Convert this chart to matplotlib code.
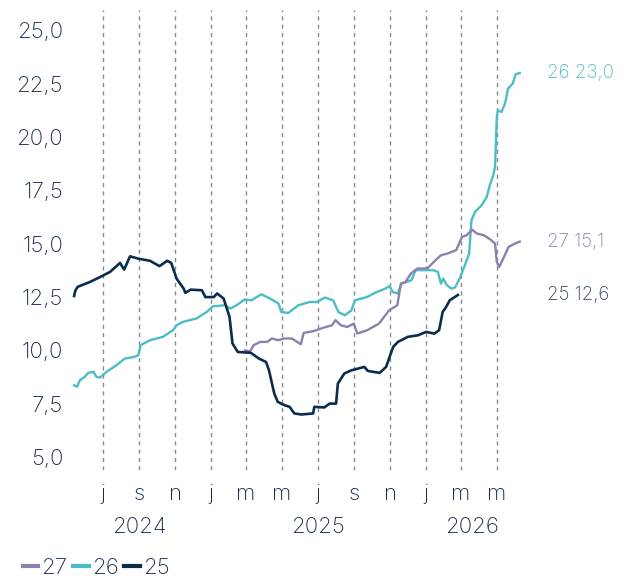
import pandas as pd
import matplotlib
matplotlib.use('Agg')
import matplotlib.pyplot as plt
from matplotlib.lines import Line2D

FONT = ['Inter', 'Roboto', 'DejaVu Sans']
NAVY = '#0b2d4d'; TEAL = '#4bbdc7'; PURPLE = '#8d80af'
TXT = '#172c4c'; GRID = '#8a8a8a'

plt.rcParams.update({'font.family': FONT, 'font.size': 16, 'font.weight': 'light'})

# series 25 (navy)
d25 = ['2024-05-13', '2024-05-15', '2024-05-19', '2024-06-09', '2024-06-29', '2024-07-13',
       '2024-07-30', '2024-08-06', '2024-08-16', '2024-08-30', '2024-09-19', '2024-10-05',
       '2024-10-18', '2024-10-25', '2024-11-03', '2024-11-15', '2024-11-18', '2024-11-27',
       '2024-12-16', '2024-12-22', '2025-01-05', '2025-01-11', '2025-01-22', '2025-02-01',
       '2025-02-06', '2025-02-15', '2025-03-09', '2025-03-23', '2025-04-04', '2025-04-09',
       '2025-04-18', '2025-04-24', '2025-05-05', '2025-05-14', '2025-05-22', '2025-06-03',
       '2025-06-23', '2025-06-25', '2025-07-12', '2025-07-21', '2025-08-01', '2025-08-04',
       '2025-08-15', '2025-08-27', '2025-09-18', '2025-09-24', '2025-10-14', '2025-10-25',
       '2025-11-06', '2025-11-14', '2025-12-01', '2025-12-18', '2026-01-01', '2026-01-15',
       '2026-01-23', '2026-01-29', '2026-02-04', '2026-02-10', '2026-02-24']
v25 = [12.55, 12.8, 12.98, 13.21, 13.48, 13.68,
       14.1, 13.79, 14.41, 14.3, 14.2, 13.95,
       14.2, 14.1, 13.37, 12.9, 12.7, 12.85,
       12.82, 12.5, 12.5, 12.67, 12.43, 11.57,
       10.33, 9.93, 9.89, 9.62, 9.46, 9.07,
       7.98, 7.59, 7.44, 7.36, 7.05, 7.0,
       7.05, 7.36, 7.33, 7.51, 7.51, 8.45,
       8.92, 9.07, 9.23, 9.04, 8.95, 9.23,
       10.17, 10.4, 10.64, 10.71, 10.87, 10.79,
       10.95, 11.8, 12.04, 12.35, 12.6]

# series 26 (teal)
d26 = ['2024-05-13', '2024-05-18', '2024-05-23', '2024-05-31', '2024-06-06', '2024-06-15',
       '2024-06-20', '2024-06-26', '2024-07-07', '2024-07-24', '2024-08-07', '2024-08-24',
       '2024-08-30', '2024-09-03', '2024-09-19', '2024-10-11', '2024-10-28', '2024-11-03',
       '2024-11-14', '2024-12-07', '2024-12-24', '2025-01-04', '2025-01-24', '2025-02-02',
       '2025-02-13', '2025-02-27', '2025-03-10', '2025-03-27', '2025-04-11', '2025-04-25',
       '2025-04-30', '2025-05-12', '2025-05-29', '2025-06-17', '2025-06-29', '2025-07-13',
       '2025-07-27', '2025-08-05', '2025-08-16', '2025-08-27', '2025-09-02', '2025-09-22',
       '2025-10-09', '2025-10-20', '2025-10-31', '2025-11-05', '2025-11-14', '2025-11-20',
       '2025-12-07', '2025-12-14', '2025-12-30', '2026-01-13', '2026-01-21', '2026-01-26',
       '2026-01-30', '2026-02-05', '2026-02-13', '2026-02-19', '2026-02-27', '2026-03-11',
       '2026-03-15', '2026-03-19', '2026-03-25', '2026-04-05', '2026-04-14', '2026-04-19',
       '2026-04-25', '2026-04-28', '2026-05-01', '2026-05-03', '2026-05-09', '2026-05-15',
       '2026-05-20', '2026-05-28', '2026-06-02', '2026-06-09']
v26 = [8.37, 8.3, 8.61, 8.76, 8.95, 9.0,
       8.76, 8.73, 9.0, 9.31, 9.62, 9.7,
       9.78, 10.25, 10.48, 10.64, 10.95, 11.18,
       11.34, 11.5, 11.8, 12.07, 12.12, 11.96,
       12.12, 12.39, 12.35, 12.63, 12.43, 12.2,
       11.8, 11.76, 12.12, 12.27, 12.27, 12.48,
       12.35, 11.8, 11.65, 11.88, 12.35, 12.5,
       12.74, 12.85, 13.01, 12.74, 12.67, 13.13,
       13.29, 13.76, 13.76, 13.76, 13.68, 13.13,
       13.37, 13.06, 12.9, 12.95, 13.37, 14.23,
       14.54, 16.1, 16.49, 16.8, 17.19, 17.74,
       18.21, 18.6, 20.94, 21.25, 21.17, 21.57,
       22.27, 22.5, 22.94, 23.0]

# series 27 (purple)
d27 = ['2025-02-27', '2025-03-08', '2025-03-14', '2025-03-25', '2025-04-06', '2025-04-14',
       '2025-04-25', '2025-05-04', '2025-05-18', '2025-06-02', '2025-06-07', '2025-06-24',
       '2025-07-11', '2025-07-25', '2025-07-31', '2025-08-09', '2025-08-20', '2025-08-31',
       '2025-09-06', '2025-09-23', '2025-10-13', '2025-10-30', '2025-11-13', '2025-11-19',
       '2025-11-27', '2025-12-06', '2025-12-17', '2026-01-03', '2026-01-14', '2026-01-26',
       '2026-02-06', '2026-02-21', '2026-03-03', '2026-03-11', '2026-03-20', '2026-03-28',
       '2026-04-09', '2026-04-20', '2026-04-28', '2026-05-01', '2026-05-05', '2026-05-12',
       '2026-05-21', '2026-06-01', '2026-06-09']
v27 = [10.0, 9.96, 10.25, 10.4, 10.4, 10.56,
       10.48, 10.56, 10.56, 10.29, 10.82, 10.91,
       11.07, 11.18, 11.42, 11.18, 11.1, 11.26,
       10.79, 10.95, 11.26, 11.88, 12.12, 13.13,
       13.21, 13.6, 13.84, 13.84, 14.15, 14.46,
       14.54, 14.7, 15.32, 15.4, 15.66, 15.48,
       15.4, 15.2, 15.01, 14.15, 13.91, 14.31,
       14.85, 15.01, 15.1]

month_ticks = ['2024-07-01', '2024-09-01', '2024-11-01', '2025-01-01', '2025-03-01', '2025-05-01',
               '2025-07-01', '2025-09-01', '2025-11-01', '2026-01-01', '2026-03-01', '2026-05-01']
month_labels = ['j', 's', 'n', 'j', 'm', 'm', 'j', 's', 'n', 'j', 'm', 'm']
years = ['2024', '2025', '2026']
year_pos = ['2024-09-01', '2025-07-01', '2026-03-20']
yticks = [5.0, 7.5, 10.0, 12.5, 15.0, 17.5, 20.0, 22.5, 25.0]

fig = plt.figure(figsize=(6.28, 5.78), dpi=100)
ax = fig.add_axes([70/628, 108/578, 458/628, 460/578])

series = [('27', d27, v27, PURPLE, 1.7), ('26', d26, v26, TEAL, 1.7), ('25', d25, v25, NAVY, 1.9)]
for name, d, v, col, lw in [series[1], series[0], series[2]]:
    ax.plot(pd.to_datetime(d), v, color=col, lw=lw, solid_joinstyle='round')

for t in month_ticks:
    ax.axvline(pd.Timestamp(t), color=GRID, lw=1, ls=(0, (3, 3)), zorder=0)

ax.set_xlim(pd.Timestamp('2024-05-06'), pd.Timestamp('2026-06-23'))
ax.set_ylim(4.4, 25.95)
ax.set_xticks(pd.to_datetime(month_ticks))
ax.set_xticklabels(month_labels)
ax.set_yticks(yticks)
ax.set_yticklabels([f'{t:.1f}'.replace('.', ',') for t in yticks])
ax.tick_params(length=0, colors=TXT, labelsize=16)
ax.tick_params(axis='x', pad=10)
ax.tick_params(axis='y', pad=5)
for s in ax.spines.values():
    s.set_visible(False)

for y, p in zip(years, year_pos):
    ax.text(pd.Timestamp(p), -0.123, y, transform=ax.get_xaxis_transform(),
            ha='center', va='center', color=TXT, fontsize=16)

end_cols = {'26': TEAL, '27': PURPLE, '25': '#2b4763'}
for name, d, v, col, lw in series:
    ax.text(1.041, v[-1], f'{name} {v[-1]:.1f}'.replace('.', ','),
            transform=ax.get_yaxis_transform(), ha='left', va='center',
            color=end_cols[name], fontsize=13.5)

handles = [Line2D([], [], color=c, lw=3) for _, _, _, c, _ in series]
fig.legend(handles, [s[0] for s in series], loc='center left', bbox_to_anchor=(0.036, 0.018),
           frameon=False, ncol=3, handlelength=0.7, handletextpad=0.15, columnspacing=0.25,
           fontsize=16, labelcolor=TXT, borderpad=0, borderaxespad=0)

fig.savefig('out.png', dpi=100)
